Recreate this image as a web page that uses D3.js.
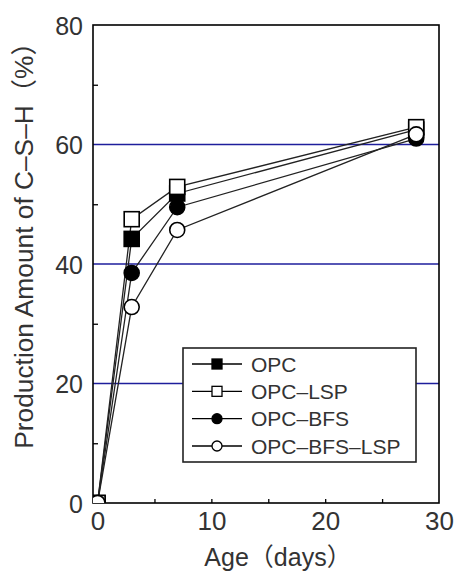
<!DOCTYPE html>
<html>
<head>
<meta charset="utf-8">
<script src="https://cdn.jsdelivr.net/npm/d3@7/dist/d3.min.js"></script>
<style>
  html, body { margin: 0; padding: 0; background: #fff; }
  svg { display: block; }
  text { font-family: "Liberation Sans", Arial, "Noto Sans CJK JP", sans-serif; fill: #333; }
</style>
</head>
<body>
<svg id="chart" width="456" height="575"></svg>
<script>
// Curing age (days) and C-S-H production (%) for each mix
const ages = [0, 3, 7, 28];
const seriesNames = ["OPC", "OPC–LSP", "OPC–BFS", "OPC–BFS–LSP"];
const opc = [0, 44.2, 51.8, 62.5];
const opcLsp = [0, 47.5, 52.9, 62.9];
const opcBfs = [0, 38.5, 49.5, 61.0];
const opcBfsLsp = [0, 32.8, 45.7, 61.7];
const xTicks = [0, 10, 20, 30];
const yTicks = [0, 20, 40, 60, 80];
const gridValues = [20, 40, 60];
const xMinor = [5, 15, 25];
const yMinor = [10, 30, 50, 70];

const series = [
  { name: seriesNames[0], values: opc, shape: "square", filled: true },
  { name: seriesNames[1], values: opcLsp, shape: "square", filled: false },
  { name: seriesNames[2], values: opcBfs, shape: "circle", filled: true },
  { name: seriesNames[3], values: opcBfsLsp, shape: "circle", filled: false }
];

const svg = d3.select("#chart");
const plot = { left: 93, top: 25, right: 439, bottom: 503 };

const x = d3.scaleLinear().domain([-0.4, 30]).range([plot.left, plot.right]);
const y = d3.scaleLinear().domain([0, 80]).range([plot.bottom, plot.top]);

svg.append("defs").append("clipPath").attr("id", "plotClip")
  .append("rect")
  .attr("x", plot.left).attr("y", plot.top)
  .attr("width", plot.right - plot.left).attr("height", plot.bottom - plot.top);

// Horizontal reference lines
svg.append("g").selectAll("line").data(gridValues).join("line")
  .attr("x1", plot.left).attr("x2", plot.right)
  .attr("y1", d => y(d)).attr("y2", d => y(d))
  .attr("stroke", "#1e1e9c").attr("stroke-width", 1.6);

// Minor inward ticks
const yMinorAxis = d3.axisRight(y).tickValues(yMinor).tickSize(5).tickFormat("");
const gYm = svg.append("g").attr("transform", `translate(${plot.left},0)`).call(yMinorAxis);
gYm.select(".domain").remove();
gYm.selectAll("line").attr("stroke", "#000").attr("stroke-width", 1.3);

const xMinorAxis = d3.axisTop(x).tickValues(xMinor.concat([10, 20])).tickSize(4).tickFormat("");
const gXm = svg.append("g").attr("transform", `translate(0,${plot.bottom})`).call(xMinorAxis);
gXm.select(".domain").remove();
gXm.selectAll("line").attr("stroke", "#000").attr("stroke-width", 1.3);

// Tick labels
const yAxis = d3.axisLeft(y).tickValues(yTicks).tickSize(0).tickPadding(10);
const gY = svg.append("g").attr("transform", `translate(${plot.left},0)`).call(yAxis);
gY.select(".domain").remove();
gY.selectAll("text").style("font-size", "25px").attr("fill", "#333").attr("dy", "0.36em");

const xAxis = d3.axisBottom(x).tickValues(xTicks).tickSize(0).tickPadding(8);
const gX = svg.append("g").attr("transform", `translate(0,${plot.bottom})`).call(xAxis);
gX.select(".domain").remove();
gX.selectAll("text").style("font-size", "26px").attr("fill", "#333").attr("dy", "0.72em");

// Frame
svg.append("rect")
  .attr("x", plot.left).attr("y", plot.top)
  .attr("width", plot.right - plot.left).attr("height", plot.bottom - plot.top)
  .attr("fill", "none").attr("stroke", "#000").attr("stroke-width", 1.6);

// Axis titles
svg.append("text")
  .attr("x", (plot.left + plot.right) / 2 + 12).attr("y", 559)
  .attr("text-anchor", "middle").attr("dominant-baseline", "middle")
  .style("font-size", "25px")
  .text("Age（days）");

svg.append("text")
  .attr("transform", `translate(26,${(25 + 453) / 2}) rotate(-90)`)
  .attr("text-anchor", "middle").attr("dominant-baseline", "middle")
  .style("font-size", "26.3px")
  .text("Production Amount of C–S–H（%）");

// Series lines and markers
const line = d3.line().x((d, i) => x(ages[i])).y(d => y(d));
const data = svg.append("g").attr("clip-path", "url(#plotClip)");

const markerSize = 15;
function drawMarker(g, s, cx, cy) {
  if (s.shape === "square") {
    g.append("rect")
      .attr("x", cx - markerSize / 2).attr("y", cy - markerSize / 2)
      .attr("width", markerSize).attr("height", markerSize)
      .attr("fill", s.filled ? "#000" : "#fff")
      .attr("stroke", "#000").attr("stroke-width", 1.6);
  } else {
    g.append("circle")
      .attr("cx", cx).attr("cy", cy).attr("r", markerSize / 2)
      .attr("fill", s.filled ? "#000" : "#fff")
      .attr("stroke", "#000").attr("stroke-width", 1.6);
  }
}

series.forEach(s => {
  data.append("path").datum(s.values)
    .attr("d", line).attr("fill", "none")
    .attr("stroke", "#222").attr("stroke-width", 1.3);
});
series.forEach(s => {
  s.values.forEach((v, i) => drawMarker(data, s, x(ages[i]), y(v)));
});

// Legend
const legend = { x: 183, y: 348, w: 233, h: 114 };
const lg = svg.append("g");
lg.append("rect")
  .attr("x", legend.x).attr("y", legend.y)
  .attr("width", legend.w).attr("height", legend.h)
  .attr("fill", "#fff").attr("stroke", "#222").attr("stroke-width", 1.6);

const rowY = d3.scalePoint().domain(seriesNames).range([364, 446]);
series.forEach(s => {
  const ry = rowY(s.name);
  lg.append("line")
    .attr("x1", 192).attr("x2", 242).attr("y1", ry).attr("y2", ry)
    .attr("stroke", "#000").attr("stroke-width", 1.4);
  const g = lg.append("g");
  const ms = 10;
  if (s.shape === "square") {
    g.append("rect").attr("x", 217 - ms / 2).attr("y", ry - ms / 2)
      .attr("width", ms).attr("height", ms)
      .attr("fill", s.filled ? "#000" : "#fff").attr("stroke", "#000").attr("stroke-width", 1.3);
  } else {
    g.append("circle").attr("cx", 217).attr("cy", ry).attr("r", ms / 2)
      .attr("fill", s.filled ? "#000" : "#fff").attr("stroke", "#000").attr("stroke-width", 1.3);
  }
  lg.append("text")
    .attr("x", 251).attr("y", ry).attr("dy", "0.36em")
    .style("font-size", "21px")
    .text(s.name);
});
</script>
</body>
</html>
